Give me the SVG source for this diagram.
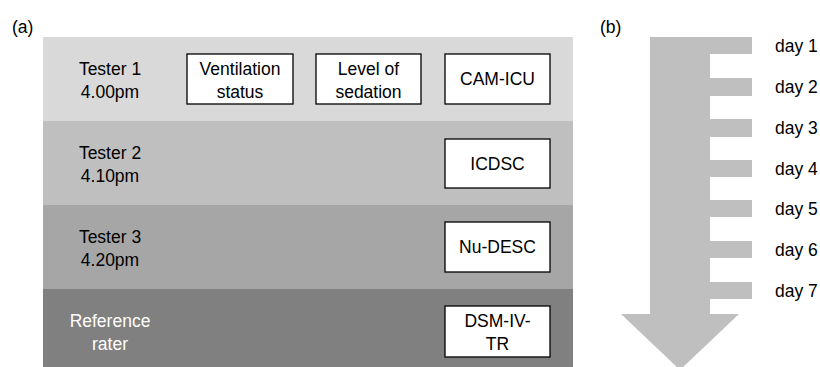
<svg xmlns="http://www.w3.org/2000/svg" width="820" height="367" viewBox="0 0 820 367">
<style>
text{font-family:"Liberation Sans",Arial,sans-serif;font-size:17.5px;fill:#000}
.c{text-anchor:middle}
.w{fill:#fff}
.box{fill:#fff;stroke:#000;stroke-width:1.3}
</style>
<rect width="820" height="367" fill="#fff"/>
<text x="12" y="33">(a)</text>
<text x="600" y="33">(b)</text>
<g id="band1"><rect x="43" y="37" width="530" height="84" fill="#d9d9d9"/>
<text class="c" x="110" y="75">Tester 1</text><text class="c" x="110" y="98">4.00pm</text></g>
<g id="band2"><rect x="43" y="121" width="530" height="84" fill="#bfbfbf"/>
<text class="c" x="110" y="159">Tester 2</text><text class="c" x="110" y="182">4.10pm</text></g>
<g id="band3"><rect x="43" y="205" width="530" height="84" fill="#a6a6a6"/>
<text class="c" x="110" y="243">Tester 3</text><text class="c" x="110" y="266">4.20pm</text></g>
<g id="band4"><rect x="43" y="289" width="530" height="80" fill="#808080"/>
<text class="c w" x="110" y="327">Reference</text><text class="c w" x="110" y="350">rater</text></g>
<g id="ventilation"><rect class="box" x="187" y="54" width="106" height="50"/>
<text class="c" x="240" y="75">Ventilation</text><text class="c" x="240" y="98">status</text></g>
<g id="sedation"><rect class="box" x="316" y="54" width="105" height="50"/>
<text class="c" x="368.5" y="75">Level of</text><text class="c" x="368.5" y="98">sedation</text></g>
<g id="camicu"><rect class="box" x="445" y="54" width="105" height="50"/>
<text class="c" x="497.5" y="85">CAM-ICU</text></g>
<g id="icdsc"><rect class="box" x="445" y="139" width="105" height="49"/>
<text class="c" x="497.5" y="170">ICDSC</text></g>
<g id="nudesc"><rect class="box" x="445" y="222" width="105" height="50"/>
<text class="c" x="497.5" y="253">Nu-DESC</text></g>
<g id="dsm"><rect class="box" x="445" y="306" width="105" height="51"/>
<text class="c" x="497.5" y="327">DSM-IV-</text><text class="c" x="497.5" y="350">TR</text></g>
<g id="timeline">
<path fill="#bfbfbf" d="M650 37H752V54H710V78H752V96H710V119H752V137H710V160H752V177H710V200H752V217H710V241H752V258H710V282H752V299H710V314H739L680 370L621 314H650Z"/>
<text x="775" y="52">day 1</text>
<text x="775" y="93">day 2</text>
<text x="775" y="134">day 3</text>
<text x="775" y="175">day 4</text>
<text x="775" y="215">day 5</text>
<text x="775" y="256">day 6</text>
<text x="775" y="297">day 7</text>
</g>
<g id="connectors"></g>
</svg>
